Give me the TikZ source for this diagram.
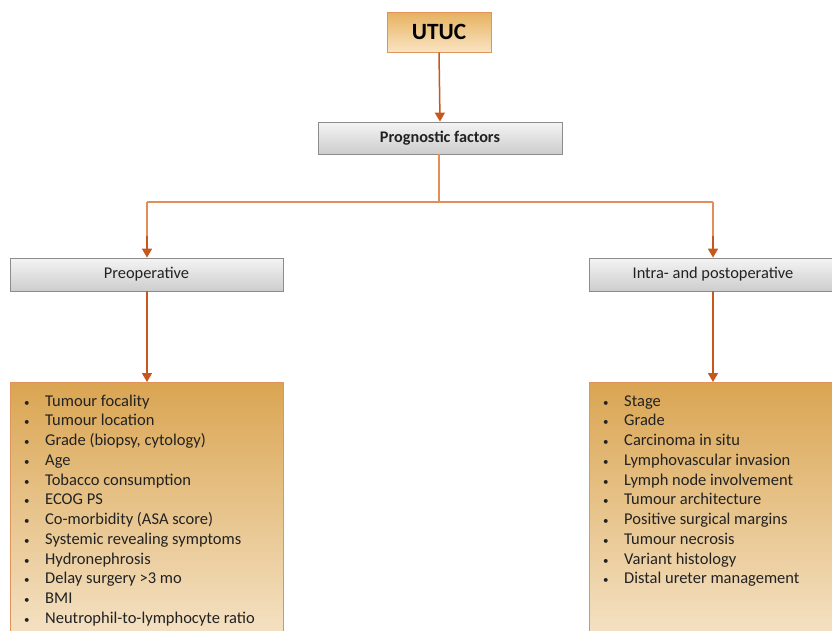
\documentclass[tikz,border=0pt]{standalone}
\usepackage{fontspec}
\setmainfont{Carlito}
\usetikzlibrary{arrows.meta,positioning}
\definecolor{arr}{HTML}{C5581C}
\definecolor{lineo}{HTML}{E08F58}
\definecolor{utop}{HTML}{E6B260}
\definecolor{ubot}{HTML}{FAE4C2}
\definecolor{ltop}{HTML}{DAA552}
\definecolor{lbot}{HTML}{F7E8D0}
\definecolor{obord}{HTML}{E0935A}
\definecolor{gtop}{HTML}{F4F4F4}
\definecolor{gbot}{HTML}{CDCDCD}
\definecolor{gbord}{HTML}{8C8C8C}
\definecolor{txt}{HTML}{222222}
\tikzset{
  graybox/.style={draw=gbord, line width=0.8pt, top color=gtop, bottom color=gbot, inner sep=0pt, text=txt, font=\fontsize{16.4}{18}\selectfont},
  orangebox/.style={draw=obord, line width=1pt, top color=ltop, bottom color=lbot, inner sep=0pt},
  arrowline/.style={draw=arr, line width=1.5pt, -{Triangle[length=9pt,width=10pt]}},
  plainline/.style={draw=lineo, line width=1.1pt},
  item/.style={anchor=base west, inner sep=0pt, text=txt, font=\fontsize{16.5}{18}\selectfont},
  bul/.style={anchor=base west, inner sep=0pt, text=txt, font=\fontsize{11}{12}\selectfont}
}
\begin{document}
\begin{tikzpicture}[x=1pt,y=-1pt]
\useasboundingbox (0,0) rectangle (832,630);
\clip (0,0) rectangle (832,630);
% top box
\node[draw=obord, line width=1pt, top color=utop, bottom color=ubot, minimum width=104pt, minimum height=40pt, inner sep=0pt, font=\fontsize{23.3}{25}\selectfont\bfseries, text=black] (utuc) at (439,32) {UTUC};
\node[graybox, minimum width=244pt, minimum height=32pt, font=\fontsize{16.2}{18}\selectfont\bfseries] (prog) at (440,138) {Prognostic factors};
\node[graybox, minimum width=273pt, minimum height=33pt] (pre) at (146.5,274.5) {Preoperative};
\node[graybox, minimum width=248pt, minimum height=33pt] (intra) at (713,274.5) {Intra- and postoperative};
% list boxes
\node[orangebox, minimum width=273pt, minimum height=280pt, anchor=north west] (lbox) at (10,382) {};
\node[orangebox, minimum width=270pt, minimum height=280pt, anchor=north west] (rbox) at (589,382) {};
% connectors
\draw[arrowline] (utuc.south) -- (prog.north);
\coordinate (split) at (439,202);
\coordinate (lc) at (147,202);
\coordinate (rc) at (713,202);
\draw[plainline] (prog.south -| split) -- (split);
\draw[plainline] (lc) -- (rc);
\draw[plainline] (lc) -- (147,240);
\draw[plainline] (rc) -- (713,240);
\draw[arrowline] (147,236) -- (pre.north -| lc);
\draw[arrowline] (713,236) -- (intra.north);
\draw[arrowline] (pre.south -| lc) -- (lbox.north -| lc);
\draw[arrowline] (intra.south) -- (rbox.north -| intra.south);
% left list
\foreach \t [count=\i from 0] in {Tumour focality,Tumour location,{Grade (biopsy, cytology)},Age,Tobacco consumption,ECOG PS,Co-morbidity (ASA score),Systemic revealing symptoms,Hydronephrosis,Delay surgery >3 mo,BMI,Neutrophil-to-lymphocyte ratio}{
  \node[bul] (lb\i) at (24,{406+19.75*\i}) {\textbullet};
  \node[item] (lt\i) at (45,{406+19.75*\i}) {\t};
}
% right list
\foreach \t [count=\i from 0] in {Stage,Grade,Carcinoma in situ,Lymphovascular invasion,Lymph node involvement,Tumour architecture,Positive surgical margins,Tumour necrosis,Variant histology,Distal ureter management}{
  \node[bul] (rb\i) at (603,{406+19.75*\i}) {\textbullet};
  \node[item] (rt\i) at (624,{406+19.75*\i}) {\t};
}
\end{tikzpicture}
\end{document}
